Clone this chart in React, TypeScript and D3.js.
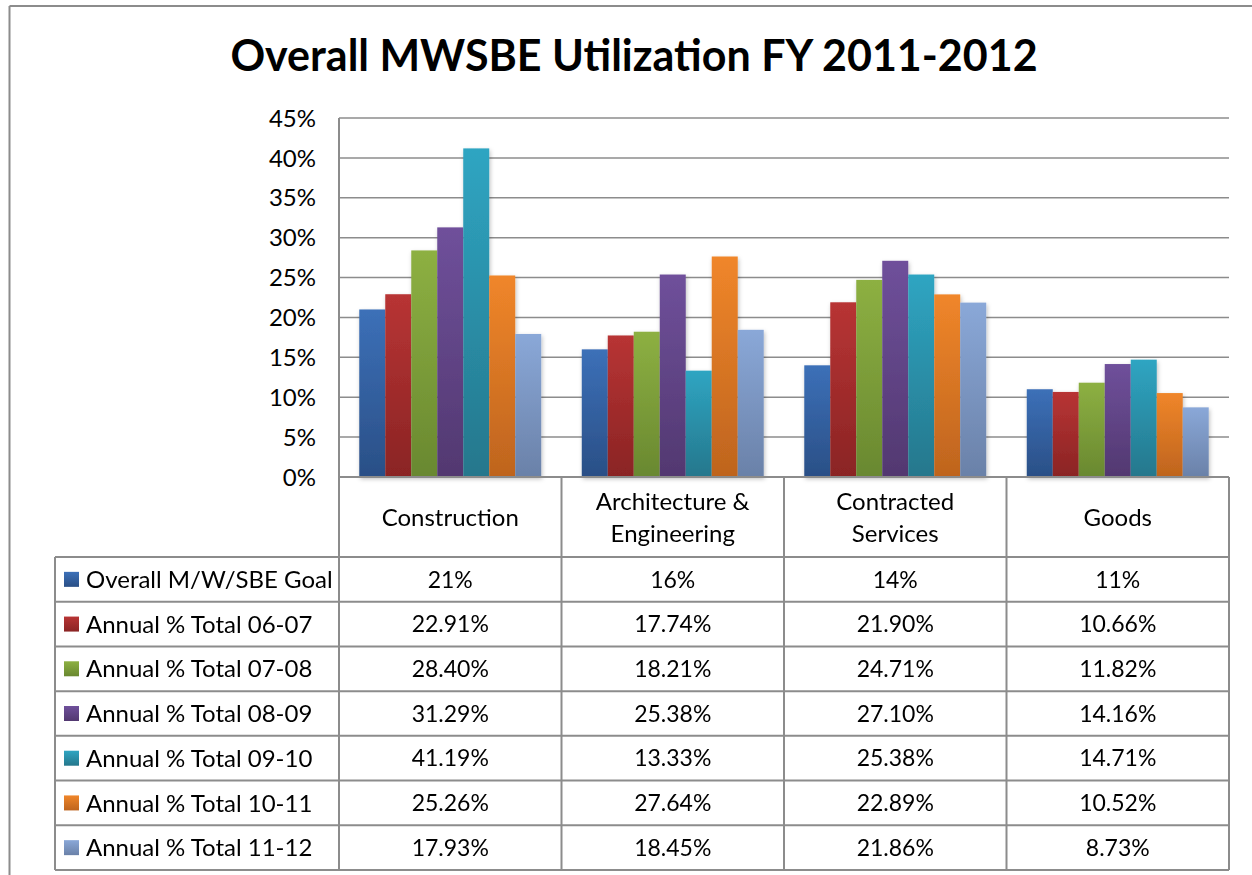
import React from "react";
import * as d3 from "d3";

const categories = ["Construction", "Architecture & Engineering", "Contracted Services", "Goods"];
const categoryLines = [["Construction"], ["Architecture &", "Engineering"], ["Contracted", "Services"], ["Goods"]];
const seriesNames = [
  "Overall M/W/SBE Goal",
  "Annual % Total 06-07",
  "Annual % Total 07-08",
  "Annual % Total 08-09",
  "Annual % Total 09-10",
  "Annual % Total 10-11",
  "Annual % Total 11-12",
];
const goal = [21, 16, 14, 11];
const total0607 = [22.91, 17.74, 21.9, 10.66];
const total0708 = [28.4, 18.21, 24.71, 11.82];
const total0809 = [31.29, 25.38, 27.1, 14.16];
const total0910 = [41.19, 13.33, 25.38, 14.71];
const total1011 = [25.26, 27.64, 22.89, 10.52];
const total1112 = [17.93, 18.45, 21.86, 8.73];
const seriesValues = [goal, total0607, total0708, total0809, total0910, total1011, total1112];
const yTicks = [0, 5, 10, 15, 20, 25, 30, 35, 40, 45];

const colorsTop = ["#3c70b8", "#b83434", "#8db042", "#6f509b", "#2fa5c2", "#f0862a", "#8aa8d8"];
const colorsBottom = ["#2a4f86", "#8a2424", "#698830", "#523870", "#25778c", "#be641e", "#6a81a8"];

const W = 1252;
const H = 875;
const plotLeft = 339;
const plotRight = 1229;
const plotTop = 118;
const plotBottom = 477;
const headerBottom = 557;
const tableBottom = 870;
const legendLeft = 55;
const font = "Lato, 'Open Sans', sans-serif";
const gridColor = "#8c8c8c";

function fmtCell(si: number, v: number) {
  return si === 0 ? `${v}%` : `${v.toFixed(2)}%`;
}

export default function App() {
  const x0 = d3.scaleBand<string>().domain(categories).range([plotLeft, plotRight]).paddingInner(0).paddingOuter(0);
  const x1 = d3
    .scaleBand<number>()
    .domain(d3.range(seriesNames.length))
    .range([0, x0.bandwidth()])
    .paddingInner(0)
    .paddingOuter(0.78);
  const y = d3.scaleLinear().domain([0, 45]).range([plotBottom, plotTop]);
  const rowY = d3.scaleBand<number>().domain(d3.range(seriesNames.length)).range([headerBottom, tableBottom]);

  return (
    <svg width={W} height={H} style={{ position: "absolute", left: 0, top: 0, background: "#fff" }} fontFamily={font}>
      <defs>
        {colorsTop.map((c, i) => (
          <linearGradient key={i} id={`g${i}`} x1="0" y1="0" x2="0" y2="1">
            <stop offset="0%" stopColor={c} />
            <stop offset="100%" stopColor={colorsBottom[i]} />
          </linearGradient>
        ))}
        <filter id="shadow" x="-20%" y="-5%" width="140%" height="115%">
          <feDropShadow dx="1" dy="2" stdDeviation="2" floodColor="#000" floodOpacity="0.25" />
        </filter>
      </defs>
      <rect x={0} y={0} width={W} height={H} fill="#fff" />
      {/* outer frame */}
      <line x1={9.5} y1={6} x2={W} y2={6} stroke={gridColor} strokeWidth={2} />
      <line x1={9.5} y1={6} x2={9.5} y2={H} stroke={gridColor} strokeWidth={2} />

      <text x={634} y={71} textAnchor="middle" fontSize={43} fontWeight="bold" fill="#000">
        Overall MWSBE Utilization FY 2011-2012
      </text>

      {/* gridlines and y labels */}
      {yTicks.map((t) => (
        <g key={t}>
          {t > 0 && (
            <line x1={plotLeft} x2={plotRight} y1={y(t)} y2={y(t)} stroke={gridColor} strokeWidth={1.5} />
          )}
          <text x={316} y={y(t)} dy="0.36em" textAnchor="end" fontSize={24} fill="#000">
            {t}%
          </text>
        </g>
      ))}
      <line x1={plotLeft} x2={plotLeft} y1={plotTop} y2={plotBottom} stroke={gridColor} strokeWidth={2} />

      {/* bars */}
      <g filter="url(#shadow)">
        {categories.map((c, ci) => (
          <g key={c} transform={`translate(${x0(c)},0)`}>
            {seriesValues.map((vals, si) => (
              <rect
                key={si}
                x={x1(si)}
                y={y(vals[ci])}
                width={x1.bandwidth()}
                height={plotBottom - y(vals[ci])}
                fill={`url(#g${si})`}
              />
            ))}
          </g>
        ))}
      </g>

      {/* table */}
      <g fill="none" stroke={gridColor} strokeWidth={2}>
        <line x1={plotLeft} x2={plotRight} y1={plotBottom} y2={plotBottom} />
        {d3.range(seriesNames.length + 1).map((r) => {
          const yy = r === seriesNames.length ? tableBottom : (rowY(r) as number);
          return <line key={r} x1={legendLeft} x2={plotRight} y1={yy} y2={yy} />;
        })}
        <line x1={legendLeft} x2={legendLeft} y1={headerBottom} y2={tableBottom} />
        {categories.map((c) => (
          <line key={c} x1={x0(c)} x2={x0(c)} y1={plotBottom} y2={tableBottom} />
        ))}
        <line x1={plotRight} x2={plotRight} y1={plotBottom} y2={tableBottom} />
      </g>

      {/* header labels */}
      {categories.map((c, ci) => {
        const cx = (x0(c) as number) + x0.bandwidth() / 2;
        const lines = categoryLines[ci];
        const mid = (plotBottom + headerBottom) / 2;
        return (
          <text key={c} x={cx} textAnchor="middle" fontSize={24} fill="#000">
            {lines.map((l, li) => (
              <tspan key={li} x={cx} y={mid + (li - (lines.length - 1) / 2) * 32} dy="0.36em">
                {l}
              </tspan>
            ))}
          </text>
        );
      })}

      {/* rows */}
      {seriesNames.map((s, si) => {
        const top = rowY(si) as number;
        const cy = top + rowY.bandwidth() / 2;
        return (
          <g key={s}>
            <rect x={64} y={cy - 7.5} width={15} height={15} fill={`url(#g${si})`} />
            <text x={86} y={cy} dy="0.36em" fontSize={24} fill="#000">
              {s}
            </text>
            {categories.map((c, ci) => (
              <text
                key={c}
                x={(x0(c) as number) + x0.bandwidth() / 2}
                y={cy}
                dy="0.36em"
                textAnchor="middle"
                fontSize={23}
                fill="#000"
              >
                {fmtCell(si, seriesValues[si][ci])}
              </text>
            ))}
          </g>
        );
      })}
    </svg>
  );
}
